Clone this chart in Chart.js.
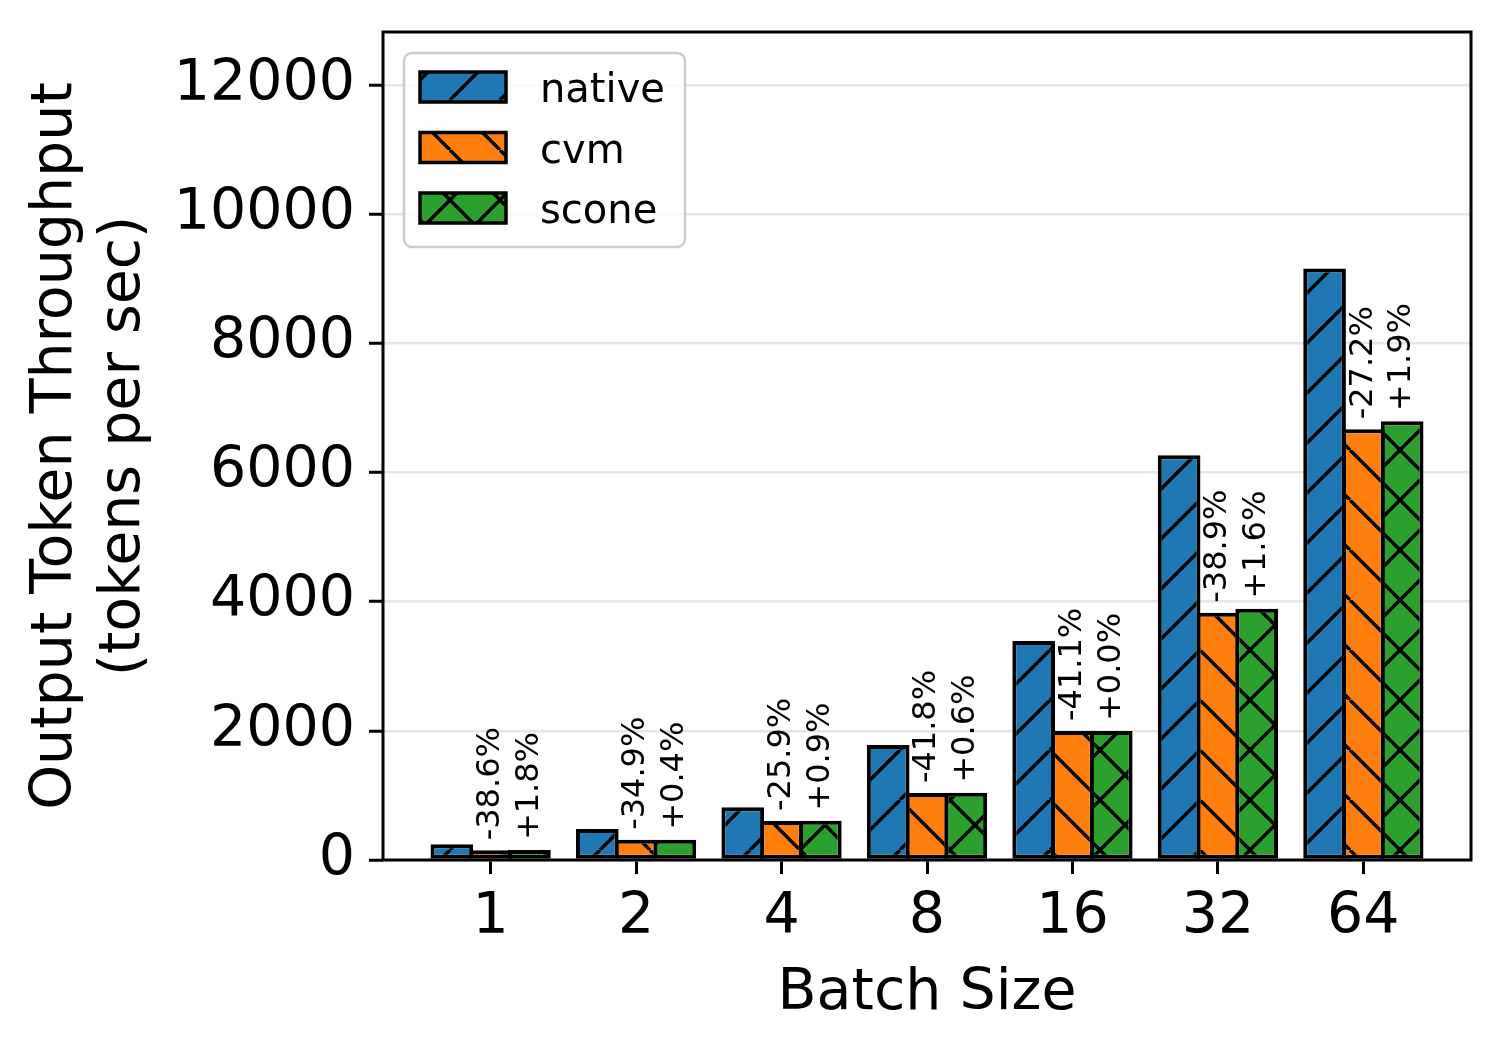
<!DOCTYPE html>
<html>
<head>
<meta charset="utf-8">
<script src="https://cdn.jsdelivr.net/npm/chart.js@4.4.1/dist/chart.umd.min.js"></script>
<style>
  html, body { margin: 0; padding: 0; background: #fff; }
  #wrap { width: 1500px; height: 1050px; }
</style>
</head>
<body>
<div id="wrap"><canvas id="myChart" width="1500" height="1050"></canvas></div>
<script>
const batchSizes = ['1', '2', '4', '8', '16', '32', '64'];

const nativeVals = [245, 480, 815, 1780, 3390, 6265, 9160];
const cvmVals = [150, 312, 604, 1036, 1997, 3828, 6668];
const sconeVals = [153, 313, 609, 1042, 1997, 3889, 6795];

const cvmLabels = ['-38.6%', '-34.9%', '-25.9%', '-41.8%', '-41.1%', '-38.9%', '-27.2%'];
const sconeLabels = ['+1.8%', '+0.4%', '+0.9%', '+0.6%', '+0.0%', '+1.6%', '+1.9%'];

const yTicks = [0, 2000, 4000, 6000, 8000, 10000, 12000];

const FONT = 'DejaVu Sans';

// matplotlib-like hatch patterns, 50px period
function makeHatch(color, dirs) {
    const s = 50;
    const c = document.createElement('canvas');
    c.width = s;
    c.height = s;
    const g = c.getContext('2d');
    g.fillStyle = color;
    g.fillRect(0, 0, s, s);
    g.strokeStyle = '#000';
    g.lineWidth = 3.4;
    g.beginPath();
    for (let k = -1; k <= 1; k++) {
        if (dirs.indexOf('/') >= 0) {
            g.moveTo(k * s, s);
            g.lineTo(k * s + s, 0);
        }
        if (dirs.indexOf('\\') >= 0) {
            g.moveTo(k * s, 0);
            g.lineTo(k * s + s, s);
        }
    }
    g.stroke();
    return g.createPattern(c, 'repeat');
}

const hatches = [
    makeHatch('#1f77b4', '/'),
    makeHatch('#ff7f0e', '\\'),
    makeHatch('#2ca02c', '/\\'),
];

function points(vals) {
    return vals.map((v, i) => ({ x: i, y: v }));
}

const data = {
    datasets: [
        { label: 'native', data: points(nativeVals), backgroundColor: hatches[0] },
        { label: 'cvm', data: points(cvmVals), backgroundColor: hatches[1] },
        { label: 'scone', data: points(sconeVals), backgroundColor: hatches[2] },
    ]
};

// percent labels above cvm and scone bars
const barLabels = {
    id: 'barLabels',
    afterDatasetsDraw(chart) {
        const ctx = chart.ctx;
        const sets = [[1, cvmLabels], [2, sconeLabels]];
        ctx.save();
        ctx.fillStyle = '#000';
        ctx.font = '32px "' + FONT + '"';
        ctx.textAlign = 'left';
        ctx.textBaseline = 'middle';
        sets.forEach(([idx, texts]) => {
            chart.getDatasetMeta(idx).data.forEach((bar, i) => {
                ctx.save();
                ctx.translate(bar.x, bar.y - 10);
                ctx.rotate(-Math.PI / 2);
                ctx.fillText(texts[i], 0, 0);
                ctx.restore();
            });
        });
        ctx.restore();
    }
};

// axes frame + legend box inside the plot
const frameAndLegend = {
    id: 'frameAndLegend',
    afterDraw(chart) {
        const ctx = chart.ctx;
        const a = chart.chartArea;
        ctx.save();
        ctx.strokeStyle = '#000';
        ctx.lineWidth = 3;
        ctx.strokeRect(a.left, a.top, a.right - a.left, a.bottom - a.top);

        const lx = a.left + 21, ly = a.top + 21, lw = 281, lh = 194;
        ctx.beginPath();
        ctx.roundRect(lx, ly, lw, lh, 8);
        ctx.fillStyle = 'rgba(255,255,255,0.8)';
        ctx.fill();
        ctx.strokeStyle = '#cccccc';
        ctx.lineWidth = 2.5;
        ctx.stroke();

        ctx.font = '40px "' + FONT + '"';
        ctx.textAlign = 'left';
        ctx.textBaseline = 'alphabetic';
        chart.data.datasets.forEach((ds, i) => {
            const y = ly + 19 + i * 60.5;
            ctx.fillStyle = ds.backgroundColor;
            ctx.fillRect(lx + 16, y, 86, 30);
            ctx.strokeStyle = '#000';
            ctx.lineWidth = 3.5;
            ctx.strokeRect(lx + 16, y, 86, 30);
            ctx.fillStyle = '#000';
            ctx.fillText(ds.label, lx + 136, y + 30);
        });
        ctx.restore();
    }
};

const config = {
    type: 'bar',
    data: data,
    options: {
        responsive: false,
        animation: false,
        layout: { padding: { left: 0, top: 32, right: 29, bottom: 0 } },
        datasets: {
            bar: {
                borderColor: '#000',
                borderWidth: 4,
                borderSkipped: false,
                categoryPercentage: 0.8,
                barPercentage: 1.1
            }
        },
        plugins: {
            legend: { display: false },
            tooltip: { enabled: false }
        },
        scales: {
            x: {
                type: 'linear',
                offset: false,
                min: -0.74,
                max: 6.74,
                afterBuildTicks: (s) => { s.ticks = batchSizes.map((b, i) => ({ value: i })); },
                afterFit: (s) => { s.height = 190; s.paddingLeft = 0; s.paddingRight = 0; },
                border: { display: false },
                grid: {
                    offset: false,
                    drawOnChartArea: false,
                    tickLength: 14,
                    tickWidth: 3,
                    tickColor: '#000'
                },
                ticks: {
                    color: '#000',
                    padding: 10,
                    font: { family: FONT, size: 57 },
                    callback: (v) => batchSizes[v]
                },
                title: {
                    display: true,
                    text: 'Batch Size',
                    color: '#000',
                    font: { family: FONT, size: 57 },
                    padding: { top: 0, bottom: 22 }
                }
            },
            y: {
                min: 0,
                max: 12820,
                afterBuildTicks: (s) => { s.ticks = yTicks.map(v => ({ value: v })); },
                afterFit: (s) => { s.width = 383; s.paddingTop = 0; s.paddingBottom = 0; },
                border: { display: false },
                grid: {
                    color: '#e6e6e6',
                    lineWidth: 2.5,
                    tickLength: 14,
                    tickWidth: 3,
                    tickColor: '#000'
                },
                ticks: {
                    color: '#000',
                    padding: 14,
                    font: { family: FONT, size: 57 },
                    callback: (v) => String(v)
                },
                title: {
                    display: true,
                    text: ['Output Token Throughput', '(tokens per sec)'],
                    color: '#000',
                    font: { family: FONT, size: 57, lineHeight: 1.2 },
                    padding: { top: 22, bottom: 0 }
                }
            }
        }
    },
    plugins: [barLabels, frameAndLegend]
};

let myChart = new Chart(document.getElementById('myChart'), config);
</script>
</body>
</html>
